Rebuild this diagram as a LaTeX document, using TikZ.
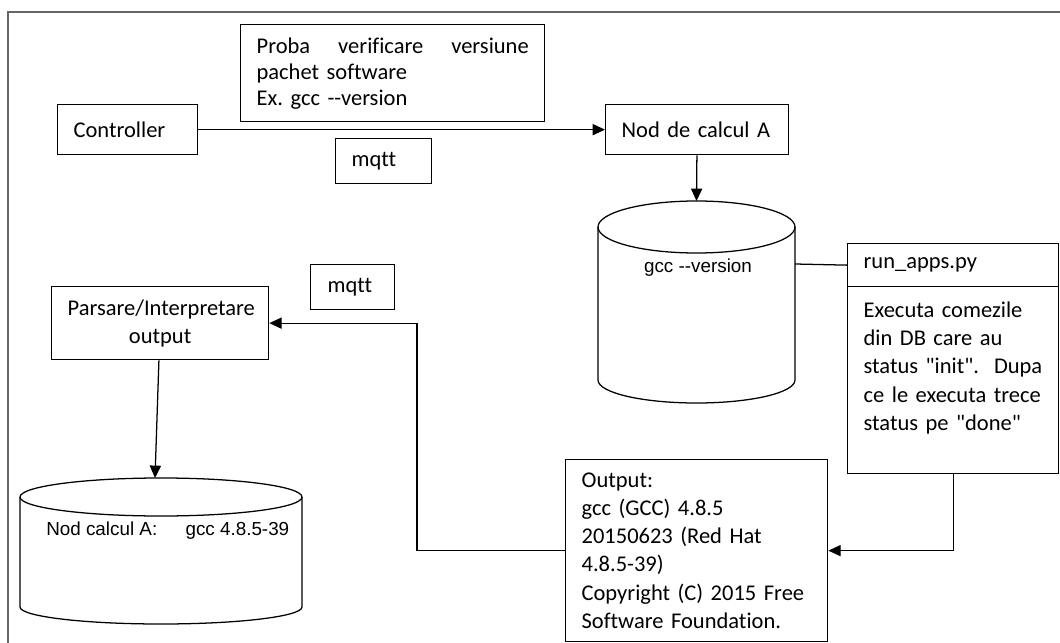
\documentclass[tikz,border=0pt]{standalone}
\usepackage{fontspec}
\setmainfont{Carlito}[Ligatures={TeXOff,NoCommon}]
\newfontfamily\arialfont{Liberation Sans}[Ligatures=TeXOff]
\usepackage{tikz}
\usetikzlibrary{arrows.meta,positioning,calc}
\frenchspacing

\tikzset{
  box/.style={draw, line width=0.9pt, anchor=north west, inner xsep=0.4cm, inner ysep=0pt,
    align=left, font=\fontsize{16}{20}\selectfont},
  db/.style={line width=0.9pt},
  dbtext/.style={font=\arialfont\fontsize{13.4}{16}\selectfont, inner sep=0pt},
  wire/.style={line width=0.9pt},
  arr/.style={line width=0.9pt, -{Triangle[length=3.1mm,width=2.8mm]}}
}

\begin{document}
\begin{tikzpicture}[x=0.025cm,y=-0.025cm]
	\useasboundingbox (0,0) rectangle (1060,643);
	\draw[black!60, line width=1.2pt] (8,643) -- (8,12) -- (1060,12);
	% boxes
	\node[box, minimum width=3.5cm, minimum height=1.25cm, text width=2.7cm] (ctrl) at (57,104) {Controller};
	\node[box, minimum width=7.6cm, minimum height=2.425cm, text width=6.8cm, font=\fontsize{16}{18.5}\selectfont] (probe) at (240,24)
		{Proba\hfill verificare\hfill versiune\\pachet software\\Ex. gcc --version};
	\node[box, minimum width=4.575cm, minimum height=1.25cm, text width=3.775cm] (nodA) at (605,104) {Nod de calcul A};
	\node[box, minimum width=2.4cm, minimum height=1.125cm, text width=1.6cm, inner xsep=0.375cm] (mqttA) at (335,138) {mqtt};
	\node[box, minimum width=5.275cm, minimum height=1.075cm, text width=4.475cm] (runhead) at (847,243) {run\_apps.py};
	\node[box, minimum width=5.275cm, minimum height=4.675cm, text width=4.475cm] (runbody) at (847,286)
		{Executa comezile\\din DB care au\\status "init".\ \ Dupa\\ce le executa trece\\status pe "done"\\ \mbox{}};
	\node[box, minimum width=6.55cm, minimum height=4.55cm, text width=5.75cm] (output) at (565,459)
		{Output:\\gcc (GCC) 4.8.5\\20150623 (Red Hat\\4.8.5-39)\\Copyright (C) 2015 Free\\Software Foundation.};
	\node[box, minimum width=5.425cm, minimum height=1.825cm, text width=4.625cm, align=center] (parsare) at (51,286)
		{Parsare/Interpretare\\output};
	\node[box, minimum width=2.1cm, minimum height=1.125cm, text width=1.25cm, inner xsep=0.425cm] (mqttB) at (310,264) {mqtt};
	% databases
	\draw[db] (696.5,227) ellipse [x radius=98.5, y radius=26];
	\draw[db] (598,227) -- (598,380) arc[start angle=180, end angle=0, x radius=98.5, y radius=23] -- (795,227);
	\node[dbtext] (dbAlabel) at (698,268) {gcc --version};
	\coordinate (dbAtop) at (696.5,201);
	\coordinate (dbAright) at (795,264);
	\draw[db] (161,497) ellipse [x radius=141, y radius=19];
	\draw[db] (20,497) -- (20,607) arc[start angle=180, end angle=0, x radius=141, y radius=17] -- (302,497);
	\node[dbtext, anchor=west] (dbBlabel) at (46,531) {Nod calcul A:\hspace{1.5em}gcc 4.8.5-39};
	\coordinate (dbBtop) at (155,478);
	% connectors
	\draw[arr] (ctrl) -- (nodA);
	\draw[arr] (nodA) -- (dbAtop);
	\draw[wire] (dbAright) -- (runhead.west);
	\draw[arr] (runbody.south) |- (output.east);
	\draw[arr] (output.west) -- ++(-148,0) |- (parsare.east);
	\draw[arr] (parsare) -- (dbBtop);
\end{tikzpicture}
\end{document}
